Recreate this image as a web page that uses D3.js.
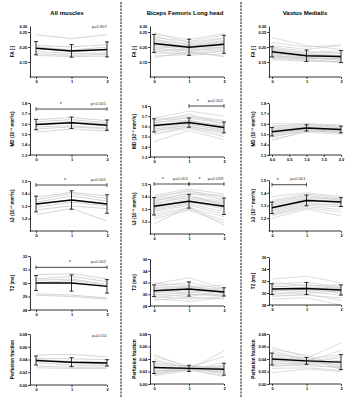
<!DOCTYPE html>
<html>
<head>
<meta charset="utf-8">
<script src="https://cdn.jsdelivr.net/npm/d3@7"></script>
<style>
body { margin: 0; background: #fff; }
svg text { font-family: Arial, "Liberation Sans", sans-serif; }
</style>
</head>
<body>
<svg width="360" height="400"></svg>
<script>
// groups (columns) and time points
const muscles = ['All muscles', 'Biceps Femoris Long head', 'Vastus Medialis'];
const timepoints = [0, 1, 2];

// FA [-] : one array per column
const faMean = [[0.196, 0.187, 0.192], [0.212, 0.199, 0.209], [0.184, 0.171, 0.168]];
const faSd = [[0.022, 0.021, 0.025], [0.030, 0.027, 0.030], [0.017, 0.019, 0.020]];
const faSubjects = [
    [[0.241, 0.228, 0.241], [0.205, 0.200, 0.208], [0.200, 0.190, 0.200], [0.195, 0.185, 0.190],
     [0.185, 0.178, 0.180], [0.178, 0.172, 0.176], [0.172, 0.168, 0.170]],
    [[0.248, 0.215, 0.230], [0.243, 0.225, 0.245], [0.238, 0.205, 0.222], [0.232, 0.218, 0.240],
     [0.228, 0.196, 0.205], [0.224, 0.210, 0.228], [0.220, 0.200, 0.215], [0.216, 0.190, 0.198],
     [0.212, 0.205, 0.218], [0.208, 0.185, 0.190], [0.205, 0.198, 0.212], [0.200, 0.178, 0.185],
     [0.196, 0.202, 0.206], [0.192, 0.188, 0.195], [0.188, 0.172, 0.178], [0.184, 0.195, 0.200],
     [0.178, 0.182, 0.170], [0.170, 0.175, 0.188], [0.165, 0.183, 0.168]],
    [[0.231, 0.205, 0.192], [0.215, 0.200, 0.207], [0.205, 0.192, 0.205], [0.200, 0.185, 0.180],
     [0.196, 0.180, 0.188], [0.192, 0.178, 0.170], [0.189, 0.175, 0.178], [0.186, 0.172, 0.165],
     [0.183, 0.168, 0.172], [0.180, 0.166, 0.160], [0.178, 0.170, 0.168], [0.175, 0.162, 0.158],
     [0.172, 0.160, 0.165], [0.170, 0.165, 0.155], [0.168, 0.158, 0.150], [0.165, 0.162, 0.162],
     [0.162, 0.155, 0.148], [0.158, 0.152, 0.152]]
];

// MD (10^-3 mm2/s)
const mdMean = [[1.593, 1.610, 1.587], [1.610, 1.637, 1.590], [1.524, 1.560, 1.545]];
const mdSd = [[0.050, 0.055, 0.050], [0.065, 0.045, 0.053], [0.041, 0.030, 0.033]];
const mdSubjects = [
    [[1.64, 1.66, 1.63], [1.62, 1.64, 1.61], [1.60, 1.62, 1.60], [1.59, 1.61, 1.58],
     [1.57, 1.58, 1.56], [1.55, 1.57, 1.55], [1.52, 1.55, 1.53]],
    [[1.68, 1.75, 1.70], [1.67, 1.70, 1.66], [1.66, 1.68, 1.63], [1.65, 1.72, 1.62],
     [1.64, 1.66, 1.60], [1.63, 1.69, 1.65], [1.62, 1.64, 1.58], [1.61, 1.65, 1.61],
     [1.60, 1.62, 1.57], [1.59, 1.66, 1.59], [1.58, 1.60, 1.55], [1.57, 1.63, 1.60],
     [1.56, 1.59, 1.52], [1.55, 1.62, 1.56], [1.53, 1.58, 1.50], [1.52, 1.60, 1.54],
     [1.45, 1.56, 1.47]],
    [[1.60, 1.60, 1.59], [1.58, 1.59, 1.58], [1.57, 1.60, 1.56], [1.56, 1.58, 1.57],
     [1.55, 1.57, 1.55], [1.54, 1.56, 1.56], [1.53, 1.57, 1.54], [1.52, 1.55, 1.55],
     [1.51, 1.56, 1.53], [1.50, 1.54, 1.54], [1.49, 1.55, 1.52], [1.48, 1.53, 1.53],
     [1.47, 1.54, 1.51], [1.45, 1.52, 1.50], [1.44, 1.53, 1.52]]
];

// lambda3 (10^-3 mm2/s)
const l3Mean = [[1.316, 1.348, 1.316], [1.322, 1.362, 1.322], [1.282, 1.340, 1.327]];
const l3Sd = [[0.063, 0.074, 0.074], [0.070, 0.055, 0.066], [0.045, 0.042, 0.035]];
const l3Subjects = [
    [[1.37, 1.41, 1.38], [1.35, 1.40, 1.36], [1.33, 1.38, 1.34], [1.31, 1.35, 1.32],
     [1.29, 1.33, 1.30], [1.27, 1.30, 1.28], [1.23, 1.28, 1.18]],
    [[1.41, 1.46, 1.42], [1.40, 1.44, 1.40], [1.39, 1.45, 1.38], [1.38, 1.42, 1.41],
     [1.37, 1.40, 1.36], [1.36, 1.43, 1.37], [1.35, 1.39, 1.35], [1.34, 1.41, 1.33],
     [1.33, 1.38, 1.34], [1.32, 1.37, 1.31], [1.31, 1.36, 1.30], [1.30, 1.35, 1.32],
     [1.29, 1.34, 1.28], [1.28, 1.33, 1.26], [1.26, 1.31, 1.24], [1.24, 1.30, 1.21],
     [1.22, 1.29, 1.19], [1.18, 1.32, 1.17]],
    [[1.37, 1.40, 1.37], [1.34, 1.39, 1.36], [1.33, 1.38, 1.35], [1.32, 1.37, 1.34],
     [1.31, 1.36, 1.35], [1.30, 1.35, 1.33], [1.29, 1.34, 1.34], [1.28, 1.35, 1.32],
     [1.27, 1.33, 1.33], [1.26, 1.32, 1.30], [1.25, 1.31, 1.31], [1.24, 1.30, 1.29],
     [1.23, 1.29, 1.27], [1.22, 1.28, 1.25], [1.20, 1.27, 1.22]]
];

// T2 (ms)
const t2Mean = [[30.0, 30.0, 29.75], [30.6, 30.9, 30.4], [30.65, 30.75, 30.5]];
const t2Sd = [[0.55, 0.6, 0.5], [1.0, 1.2, 0.7], [0.9, 1.0, 0.85]];
const t2Subjects = [
    [[30.6, 30.7, 30.3], [30.3, 30.5, 30.1], [30.2, 30.3, 29.9], [30.0, 30.2, 29.8],
     [29.2, 29.1, 28.9], [29.1, 29.0, 28.8]],
    [[31.9, 31.5, 30.6], [31.8, 32.8, 31.0], [31.6, 31.0, 31.6], [31.4, 32.0, 30.8],
     [31.2, 30.6, 30.5], [31.0, 31.4, 30.2], [30.8, 30.2, 31.2], [30.6, 31.2, 30.4],
     [30.4, 30.0, 29.9], [30.2, 30.8, 30.1], [30.0, 29.6, 30.6], [29.8, 30.4, 29.8],
     [29.6, 29.2, 29.6], [29.4, 30.0, 29.7], [29.2, 28.8, 29.4], [29.0, 29.5, 29.2]],
    [[32.3, 32.8, 31.7], [31.8, 31.2, 31.4], [31.4, 31.8, 30.9], [31.2, 30.8, 31.2],
     [31.0, 31.4, 30.6], [30.8, 30.5, 31.0], [30.7, 31.0, 30.3], [30.5, 30.2, 30.8],
     [30.4, 30.6, 30.1], [30.2, 30.9, 29.9], [30.0, 29.9, 30.4], [29.8, 30.3, 29.6],
     [29.6, 29.6, 29.2], [29.4, 29.8, 28.8], [29.0, 29.2, 28.0]]
];

// perfusion fraction
const pfMean = [[0.0384, 0.0358, 0.0347], [0.0263, 0.0250, 0.0236], [0.0400, 0.0370, 0.0350]];
const pfSd = [[0.0070, 0.0070, 0.0050], [0.0095, 0.0050, 0.0095], [0.0095, 0.0055, 0.0120]];
const pfSubjects = [
    [[0.047, 0.048, 0.044], [0.042, 0.041, 0.040], [0.040, 0.037, 0.036], [0.038, 0.035, 0.033],
     [0.035, 0.031, 0.031], [0.030, 0.028, 0.028], [0.027, 0.026, 0.026]],
    [[0.047, 0.026, 0.018], [0.044, 0.028, 0.022], [0.040, 0.024, 0.020], [0.036, 0.027, 0.025],
     [0.034, 0.022, 0.030], [0.031, 0.029, 0.024], [0.028, 0.025, 0.028], [0.026, 0.023, 0.053],
     [0.024, 0.027, 0.044], [0.022, 0.021, 0.035], [0.020, 0.026, 0.016], [0.018, 0.024, 0.019],
     [0.016, 0.023, 0.014], [0.014, 0.028, 0.027], [0.013, 0.022, 0.012], [0.019, 0.030, 0.022]],
    [[0.059, 0.043, 0.024], [0.056, 0.046, 0.028], [0.053, 0.040, 0.033], [0.050, 0.038, 0.030],
     [0.047, 0.041, 0.066], [0.045, 0.036, 0.054], [0.042, 0.039, 0.048], [0.040, 0.035, 0.045],
     [0.038, 0.033, 0.038], [0.036, 0.037, 0.026], [0.034, 0.031, 0.035], [0.032, 0.034, 0.042],
     [0.030, 0.029, 0.027], [0.028, 0.032, 0.025], [0.025, 0.026, 0.022], [0.018, 0.024, 0.020]]
];

// significance brackets: row, col, from, to, bar level, star position, p text
const brackets = [
    {row: 0, col: 0, p: 'p=0.807', at: 0.267},
    {row: 1, col: 0, from: 0, to: 2, bar: 1.742, star: 0.7, p: 'p<0.001'},
    {row: 1, col: 1, from: 1, to: 2, bar: 1.80, star: 1.25, p: 'p=0.002'},
    {row: 2, col: 0, from: 0, to: 2, bar: 1.468, star: 0.82, p: 'p=0.001'},
    {row: 2, col: 1, from: 0, to: 1, bar: 1.50, star: 0.25, p: 'p=0.001'},
    {row: 2, col: 1, from: 1, to: 2, bar: 1.50, star: 1.3, p: 'p=0.039'},
    {row: 2, col: 2, from: 0, to: 1, bar: 1.463, star: 0.17, p: 'p=0.001'},
    {row: 3, col: 0, from: 0, to: 2, bar: 31.16, star: 0.95, p: 'p=0.002'},
    {row: 4, col: 0, p: 'p=0.011', at: 0.0773}
];

const rows = [
    {label: 'FA [-]', mean: faMean, sd: faSd, subj: faSubjects,
     domain: [[0.10, 0.27], [0.10, 0.27], [0.10, 0.27]],
     box: [[77, 26], [77, 26], [77, 26]],
     ticks: [[0.15, 0.20, 0.25], [0.15, 0.20, 0.25], [0.15, 0.20, 0.25]], fmt: '.2f', topLabel: '0.30'},
    {label: 'MD (10⁻³ mm²/s)', mean: mdMean, sd: mdSd, subj: mdSubjects,
     domain: [[1.3, 1.8], [1.3, 1.8], [1.3, 1.8]],
     box: [[155, 103], [157, 106], [155, 103]],
     ticks: [[1.3, 1.4, 1.5, 1.6, 1.7, 1.8], [1.3, 1.4, 1.5, 1.6, 1.7, 1.8], [1.3, 1.4, 1.5, 1.6, 1.7, 1.8]], fmt: '.1f'},
    {label: 'λ3 (10⁻³ mm²/s)', mean: l3Mean, sd: l3Sd, subj: l3Subjects,
     domain: [[1.1, 1.5], [1.1, 1.5], [1.1, 1.5]],
     box: [[231, 181], [234, 184], [231, 180]],
     ticks: [[1.2, 1.3, 1.4, 1.5], [1.2, 1.3, 1.4, 1.5], [1.2, 1.3, 1.4, 1.5]], fmt: '.1f'},
    {label: 'T2 (ms)', mean: t2Mean, sd: t2Sd, subj: t2Subjects,
     domain: [[28, 32], [28, 36], [28, 36]],
     box: [[310, 256], [306, 259], [305, 257]],
     ticks: [[28, 29, 30, 31, 32], [28, 30, 32, 34, 36], [28, 30, 32, 34, 36]], fmt: 'd'},
    {label: 'Perfusion fraction', mean: pfMean, sd: pfSd, subj: pfSubjects,
     domain: [[0, 0.08], [0, 0.08], [0, 0.08]],
     box: [[385, 334], [384, 334], [384, 334]],
     ticks: [[0, 0.02, 0.04, 0.06, 0.08], [0, 0.02, 0.04, 0.06, 0.08], [0, 0.02, 0.04, 0.06, 0.08]], fmt: '.2f'}
];

const svg = d3.select('svg');
// y-axis position, x of time 0 and time 2 for every column
const colLeft = [30, 150, 269];
const colX0 = [36, 154, 272];
const colX2 = [107, 224, 341];
const colTitleX = [67, 185, 305];
const labelGap = [16, 14, 14];

// column titles
svg.selectAll('.title').data(muscles).enter().append('text')
    .attr('x', (d, i) => colTitleX[i])
    .attr('y', 15)
    .attr('text-anchor', 'middle')
    .attr('font-size', 6)
    .attr('font-weight', 'bold')
    .text(d => d);

// dashed separators
[121, 241].forEach(xx => {
    svg.append('line')
        .attr('x1', xx).attr('x2', xx)
        .attr('y1', 2).attr('y2', 398)
        .attr('stroke', '#222')
        .attr('stroke-width', 1.1)
        .attr('stroke-dasharray', '2.2,1.1');
});

function styleAxis(g) {
    g.selectAll('path,line').attr('stroke', '#000').attr('stroke-width', 0.8);
    g.selectAll('text').attr('font-size', 4).attr('font-weight', 'bold')
        .attr('font-family', 'Arial, "Liberation Sans", sans-serif');
}

rows.forEach((row, r) => {
    muscles.forEach((m, c) => {
        const x = d3.scaleLinear().domain([0, 2]).range([colX0[c], colX2[c]]);
        const y = d3.scaleLinear().domain(row.domain[c]).range(row.box[c]);
        const g = svg.append('g');

        // individual subjects
        const line = d3.line().x((d, i) => x(timepoints[i])).y(d => y(d));
        g.selectAll('.subj').data(row.subj[c]).enter().append('path')
            .attr('d', line)
            .attr('fill', 'none')
            .attr('stroke', c === 0 ? '#b8b8b8' : '#c6c6c6')
            .attr('stroke-width', 0.6);

        // axes
        const yAxis = g.append('g')
            .attr('transform', `translate(${colLeft[c]},0)`)
            .call(d3.axisLeft(y).tickValues(row.ticks[c]).tickFormat(d3.format(row.fmt))
                .tickSize(1.8).tickSizeOuter(0).tickPadding(1));
        if (row.topLabel) {
            yAxis.append('text')
                .attr('x', -2.8).attr('y', y(row.domain[c][1]) + 1.5)
                .attr('text-anchor', 'end').attr('fill', '#000')
                .text(row.topLabel);
        }
        styleAxis(yAxis);

        const fine = (r === 1 && c === 2);
        const xAxis = g.append('g')
            .attr('transform', `translate(0,${row.box[c][0]})`)
            .call(d3.axisBottom(x).tickValues(fine ? [0, 0.5, 1, 1.5, 2] : timepoints)
                .tickFormat(d3.format(fine ? '.1f' : 'd'))
                .tickSize(1.8).tickSizeOuter(0).tickPadding(1.5));
        xAxis.select('.domain').attr('d', `M${colLeft[c] - 0.4},0H${colX2[c]}`);
        styleAxis(xAxis);

        // y label
        const cy = (row.box[c][0] + row.box[c][1]) / 2;
        g.append('text')
            .attr('transform', `translate(${colLeft[c] - labelGap[c]},${cy}) rotate(-90)`)
            .attr('text-anchor', 'middle')
            .attr('font-size', 4.6)
            .attr('font-weight', 'bold')
            .text(row.label);

        // mean line
        g.append('path')
            .datum(row.mean[c])
            .attr('d', line)
            .attr('fill', 'none')
            .attr('stroke', '#000')
            .attr('stroke-width', 1.5);

        // error bars
        const eb = g.selectAll('.eb').data(row.mean[c]).enter().append('g');
        eb.append('line')
            .attr('x1', (d, i) => x(timepoints[i])).attr('x2', (d, i) => x(timepoints[i]))
            .attr('y1', (d, i) => y(d - row.sd[c][i])).attr('y2', (d, i) => y(d + row.sd[c][i]))
            .attr('stroke', '#000').attr('stroke-width', 0.8);
        [-1, 1].forEach(s => {
            eb.append('line')
                .attr('x1', (d, i) => x(timepoints[i]) - 2).attr('x2', (d, i) => x(timepoints[i]) + 2)
                .attr('y1', (d, i) => y(d + s * row.sd[c][i])).attr('y2', (d, i) => y(d + s * row.sd[c][i]))
                .attr('stroke', '#000').attr('stroke-width', 0.8);
        });

        // significance annotations
        brackets.filter(b => b.row === r && b.col === c).forEach(b => {
            if (b.bar === undefined) {
                g.append('text')
                    .attr('x', x(2)).attr('y', y(b.at) + 1.5)
                    .attr('text-anchor', 'end')
                    .attr('font-size', 4.2).attr('fill', '#333')
                    .text(b.p);
                return;
            }
            const by = y(b.bar);
            g.append('line')
                .attr('x1', x(b.from)).attr('x2', x(b.to))
                .attr('y1', by).attr('y2', by)
                .attr('stroke', '#333').attr('stroke-width', 0.9);
            [b.from, b.to].forEach(t => {
                g.append('line')
                    .attr('x1', x(t)).attr('x2', x(t))
                    .attr('y1', by - 1.8).attr('y2', by + 1.8)
                    .attr('stroke', '#333').attr('stroke-width', 0.9);
            });
            g.append('text')
                .attr('x', x(b.star)).attr('y', by - 3)
                .attr('text-anchor', 'middle')
                .attr('font-size', 5.5).attr('fill', '#333')
                .text('*');
            g.append('text')
                .attr('x', x(b.to) - 1).attr('y', by - 4.5)
                .attr('text-anchor', 'end')
                .attr('font-size', 4.2).attr('fill', '#333')
                .text(b.p);
        });
    });
});
</script>
</body>
</html>
